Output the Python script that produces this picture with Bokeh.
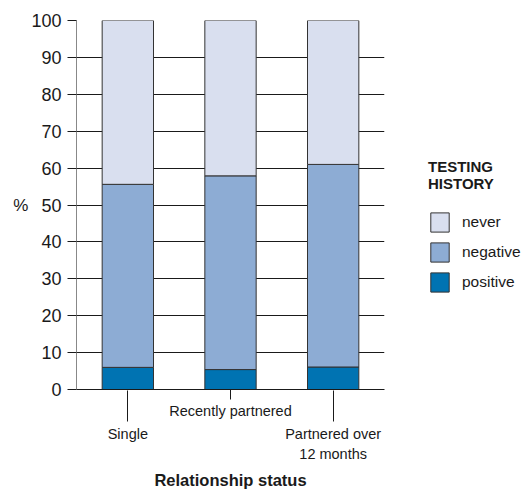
from bokeh.plotting import figure
from bokeh.models import (Range1d, LinearAxis, FixedTicker, Legend, LegendItem,
                          ColumnDataSource, Grid)
from bokeh.embed import file_html
from bokeh.resources import INLINE

categories = ["Single", "Recently partnered", "Partnered over\n12 months"]
positive = [6.0, 5.4, 6.1]
negative = [49.6, 52.5, 54.9]
never = [44.4, 42.1, 39.0]
y_ticks = [0, 10, 20, 30, 40, 50, 60, 70, 80, 90, 100]
series = ["positive", "negative", "never"]
colors = ["#0073b2", "#8dacd4", "#d9dfef"]

FONT = "Liberation Sans"
INK = "#1a1a1a"

xs = list(range(1, len(categories) + 1))
src = ColumnDataSource(dict(x=xs, positive=positive, negative=negative, never=never))

p = figure(frame_width=308, frame_height=369,
           x_range=Range1d(0.5, len(categories) + 0.5), y_range=Range1d(0, 100),
           x_axis_type=None, y_axis_type=None,
           output_backend="svg", toolbar_location=None,
           min_border_left=76, min_border_top=20, min_border_right=148,
           min_border_bottom=10, outline_line_color=None,
           background_fill_color="white", border_fill_color="white")

yt = FixedTicker(ticks=y_ticks, minor_ticks=[])
p.add_layout(Grid(dimension=1, ticker=yt, grid_line_color=INK, grid_line_width=1))

rs = p.vbar_stack(series, x="x", width=0.5, source=src, fill_color=colors,
                  line_color="#333333", line_width=1)

yaxis = LinearAxis(ticker=yt, axis_label="%", axis_label_orientation="horizontal",
                   axis_line_color="#888888", major_tick_out=9, major_tick_in=0,
                   major_tick_line_color=INK, minor_tick_line_color=None,
                   major_label_standoff=6, axis_label_standoff=0,
                   major_label_text_font=FONT, major_label_text_font_size="18px",
                   major_label_text_color=INK,
                   axis_label_text_font=FONT, axis_label_text_font_size="17px",
                   axis_label_text_font_style="normal", axis_label_text_color=INK)
p.add_layout(yaxis, "left")

# first row of category labels (middle category), short tick
axis_a = LinearAxis(ticker=FixedTicker(ticks=[2], minor_ticks=[]),
                    major_label_overrides={2: categories[1]},
                    axis_line_color=INK, major_tick_out=10, major_tick_in=0,
                    major_tick_line_color=INK, minor_tick_line_color=None,
                    major_label_standoff=3,
                    major_label_text_font=FONT, major_label_text_font_size="14.5px",
                    major_label_text_color=INK)
p.add_layout(axis_a, "below")

# second row of category labels (outer categories), long ticks reaching up to the bars
axis_b = LinearAxis(ticker=FixedTicker(ticks=[1, 3], minor_ticks=[]),
                    major_label_overrides={1: categories[0], 3: categories[2]},
                    axis_line_color=None, major_tick_out=0, major_tick_in=31,
                    major_tick_line_color=INK, minor_tick_line_color=None,
                    major_label_standoff=4,
                    major_label_text_font=FONT, major_label_text_font_size="14.5px",
                    major_label_text_line_height=1.25,
                    major_label_text_color=INK,
                    axis_label="Relationship status", axis_label_standoff=6,
                    axis_label_text_font=FONT, axis_label_text_font_size="16.5px",
                    axis_label_text_font_style="bold", axis_label_text_color=INK)
p.add_layout(axis_b, "below")

legend = Legend(items=[LegendItem(label="never", renderers=[rs[2]]),
                       LegendItem(label="negative", renderers=[rs[1]]),
                       LegendItem(label="positive", renderers=[rs[0]])],
                location=(44, 95), title="TESTING\nHISTORY",
                title_text_font=FONT, title_text_font_size="15px",
                title_text_font_style="bold", title_text_color=INK,
                title_text_line_height=2.0,
                title_standoff=18,
                label_text_font=FONT, label_text_font_size="15.5px",
                label_text_color=INK,
                glyph_width=23, glyph_height=24, label_standoff=11, spacing=6,
                padding=0, margin=0, border_line_color=None,
                background_fill_alpha=0)
p.add_layout(legend, "right")

open("out.html", "w").write(file_html(p, INLINE))
